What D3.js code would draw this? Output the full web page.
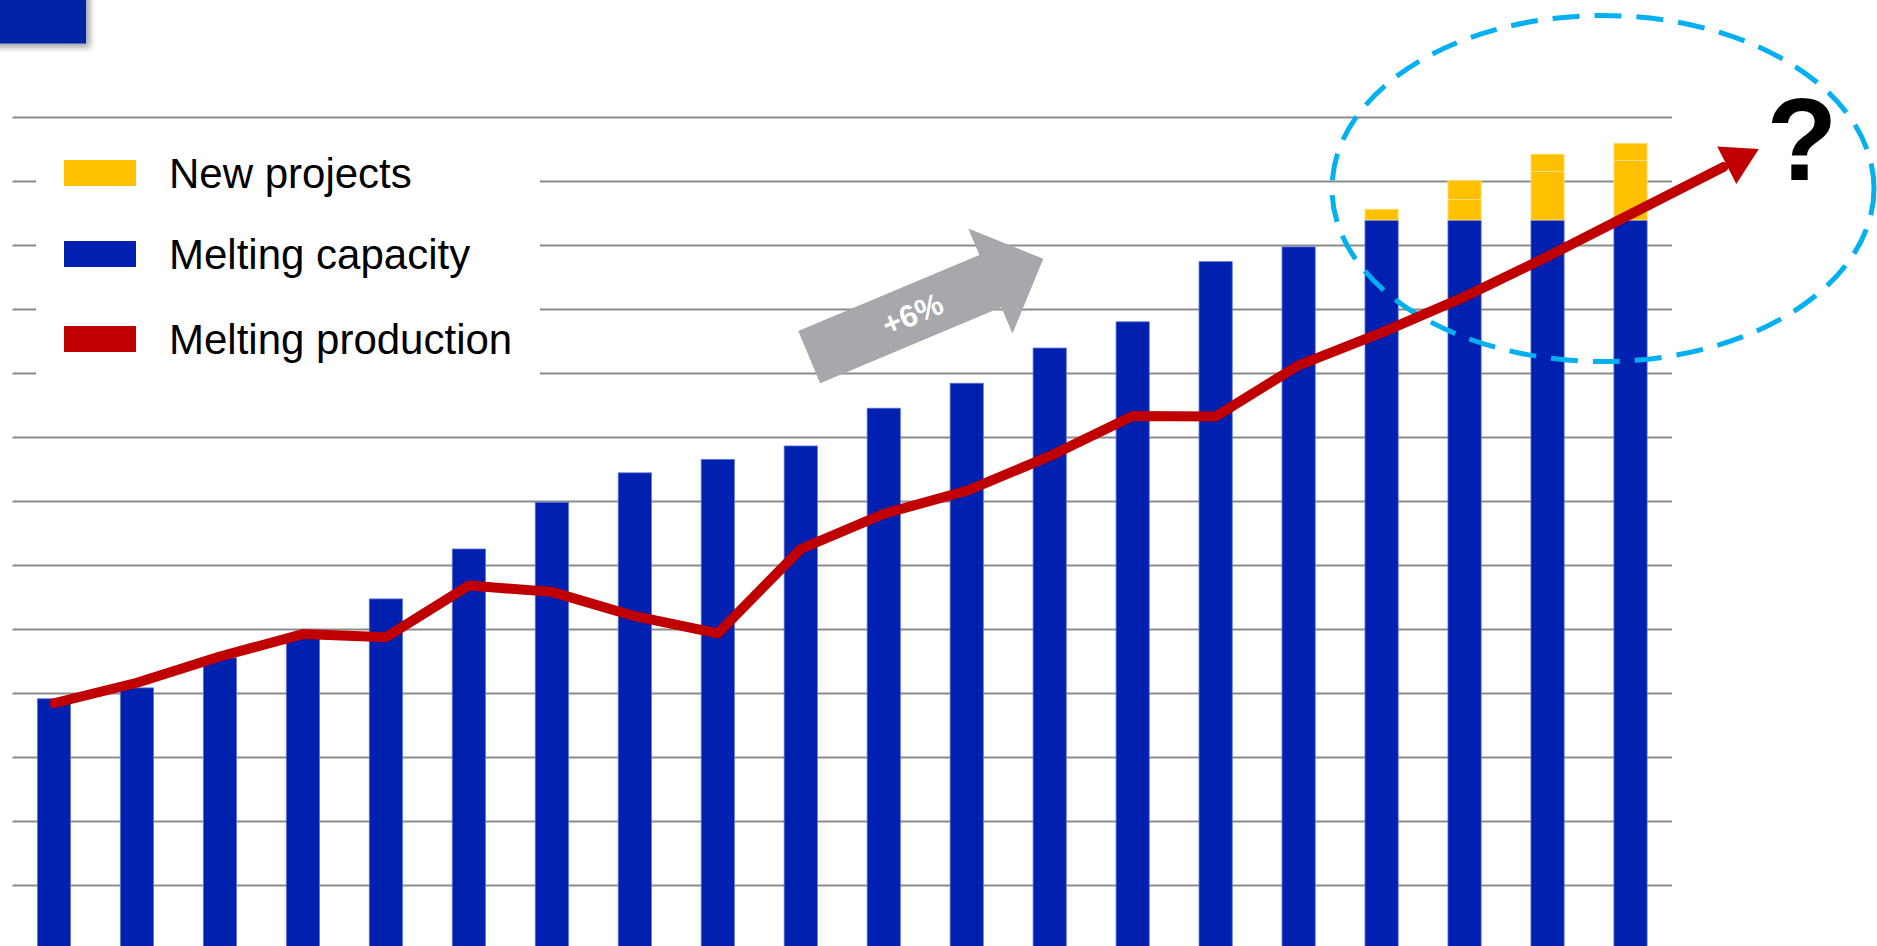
<!DOCTYPE html>
<html>
<head>
<meta charset="utf-8">
<script src="https://cdn.jsdelivr.net/npm/d3@7"></script>
<style>
  html, body { margin: 0; padding: 0; background: #ffffff; overflow: hidden; }
  svg { display: block; font-family: "Liberation Sans", Arial, sans-serif; }
</style>
</head>
<body>
<svg id="chart" width="1877" height="946"></svg>
<script>
// ---- data (values in gridline units; no axis labels are shown in the original) ----
const categories = ["1","2","3","4","5","6","7","8","9","10","11","12","13","14","15","16","17","18","19","20"];
const meltingCapacity   = [3.91, 4.08, 4.55, 4.88, 5.47, 6.25, 6.98, 7.44, 7.65, 7.86, 8.45, 8.84, 9.39, 9.80, 10.74, 10.97, 11.39, 11.39, 11.39, 11.39];
const newProjectsA      = [0, 0, 0, 0, 0, 0, 0, 0, 0, 0, 0, 0, 0, 0, 0, 0, 0.17, 0.32, 0.76, 0.93];
const newProjectsB      = [0, 0, 0, 0, 0, 0, 0, 0, 0, 0, 0, 0, 0, 0, 0, 0, 0, 0.30, 0.27, 0.27];
const meltingProduction = [3.84, 4.16, 4.57, 4.92, 4.87, 5.68, 5.58, 5.20, 4.93, 6.25, 6.80, 7.16, 7.70, 8.33, 8.32, 9.12, 9.63, 10.19, 10.82, 11.48];
const gridValues = [1,2,3,4,5,6,7,8,9,10,11,12,13];
const legendLabels = ["New projects", "Melting capacity", "Melting production"];
const growthLabel = "+6%";
const questionLabel = "?";

(function () {
// ---- style ----
const BLUE = "#0020B0", YELLOW = "#FFC000", RED = "#C00000", GREY_ARROW = "#A6A8AB", CYAN = "#00B0F0";

const svg = d3.select("#chart");
const pLeft = 12.5, pRight = 1672, pTop = 117, pBottom = 949;

const x = d3.scaleBand().domain(categories).range([pLeft, pRight]).paddingInner(0.6).paddingOuter(0.3);
const y = d3.scaleLinear().domain([0, 13]).range([pBottom, pTop]);

// defs: shadow for the header block
const defs = svg.append("defs");
const f = defs.append("filter").attr("id", "shadow").attr("x", "-20%").attr("y", "-20%").attr("width", "150%").attr("height", "160%");
f.append("feDropShadow").attr("dx", 4).attr("dy", 4).attr("stdDeviation", 3).attr("flood-color", "#000").attr("flood-opacity", 0.35);

// header block (top-left)
svg.append("rect").attr("x", -10).attr("y", -10).attr("width", 96).attr("height", 53.5)
  .attr("fill", "#0022A5").attr("filter", "url(#shadow)");

// gridlines
const grid = svg.append("g").attr("transform", `translate(${pLeft},0)`)
  .call(d3.axisLeft(y).tickValues(gridValues).tickSize(-(pRight - pLeft)).tickFormat(""));
grid.select(".domain").remove();
grid.selectAll(".tick line").attr("stroke", "#8C8C8C").attr("stroke-width", 2);

// legend background (interrupts gridlines)
svg.append("rect").attr("x", 36).attr("y", 130).attr("width", 504).attr("height", 268).attr("fill", "#fff");

// bars: capacity
svg.append("g").selectAll("rect").data(categories).join("rect")
  .attr("x", d => x(d))
  .attr("width", x.bandwidth())
  .attr("y", (d, i) => y(meltingCapacity[i]))
  .attr("height", (d, i) => y(0) - y(meltingCapacity[i]))
  .attr("fill", BLUE).attr("stroke", "#5d74db").attr("stroke-width", 0.8);

// bars: new projects (two stacked parts)
const stackA = categories.map((c, i) => ({c, y0: meltingCapacity[i], y1: meltingCapacity[i] + newProjectsA[i]}));
const stackB = categories.map((c, i) => ({c, y0: meltingCapacity[i] + newProjectsA[i], y1: meltingCapacity[i] + newProjectsA[i] + newProjectsB[i]}));
[stackA, stackB].forEach(st => {
  svg.append("g").selectAll("rect").data(st.filter(d => d.y1 > d.y0)).join("rect")
    .attr("x", d => x(d.c))
    .attr("width", x.bandwidth())
    .attr("y", d => y(d.y1))
    .attr("height", d => y(d.y0) - y(d.y1))
    .attr("fill", YELLOW).attr("stroke", "#FFE38A").attr("stroke-width", 0.8);
});

// legend
const legendY = [173, 254, 339];
const legendColors = [YELLOW, BLUE, RED];
legendLabels.forEach((lab, i) => {
  svg.append("rect").attr("x", 64).attr("y", legendY[i] - 13).attr("width", 72).attr("height", 26).attr("fill", legendColors[i]);
  svg.append("text").attr("x", 169).attr("y", legendY[i] + 15).attr("font-size", 42).attr("fill", "#000").text(lab);
});

// grey growth arrow (+6%)
const ga = svg.append("g").attr("transform", "translate(809.2,357.2) rotate(-22.8)");
ga.append("path").attr("d", "M0,-28.3 L196.5,-28.3 L196.5,-57 L254,0 L196.5,57 L196.5,28.3 L0,28.3 Z").attr("fill", GREY_ARROW);
ga.append("text").attr("x", 112).attr("y", 0).attr("dy", "0.36em").attr("text-anchor", "middle")
  .attr("font-size", 31).attr("font-weight", "bold").attr("fill", "#fff").text(growthLabel);

// dashed ellipse
svg.append("ellipse").attr("cx", 1603).attr("cy", 188.5).attr("rx", 271).attr("ry", 173)
  .attr("fill", "none").attr("stroke", CYAN).attr("stroke-width", 5).attr("stroke-dasharray", "27 15");

// production line with arrow extension
const pts = categories.map((c, i) => [x(c) + x.bandwidth() / 2, y(meltingProduction[i])]);
const n = pts.length;
const p1 = pts[n - 2], p2 = pts[n - 1];
const len = Math.hypot(p2[0] - p1[0], p2[1] - p1[1]);
const ux = (p2[0] - p1[0]) / len, uy = (p2[1] - p1[1]) / len;
const base = [p2[0] + ux * 108, p2[1] + uy * 108];
const tip = [base[0] + ux * 36, base[1] + uy * 36];
const lineData = pts.concat([[base[0] - ux * 4, base[1] - uy * 4]]);
svg.append("path").datum(lineData)
  .attr("d", d3.line())
  .attr("fill", "none").attr("stroke", RED).attr("stroke-width", 10)
  .attr("stroke-linejoin", "round").attr("stroke-linecap", "round");
const hw = 21;
svg.append("path")
  .attr("d", `M${tip[0]},${tip[1]} L${base[0] - uy * hw},${base[1] + ux * hw} L${base[0] + uy * hw},${base[1] - ux * hw} Z`)
  .attr("fill", RED);

// question mark
svg.append("text").attr("x", 1802).attr("y", 180).attr("text-anchor", "middle")
  .attr("font-size", 116).attr("font-weight", "bold").attr("fill", "#000").text(questionLabel);
})();
</script>
</body>
</html>
